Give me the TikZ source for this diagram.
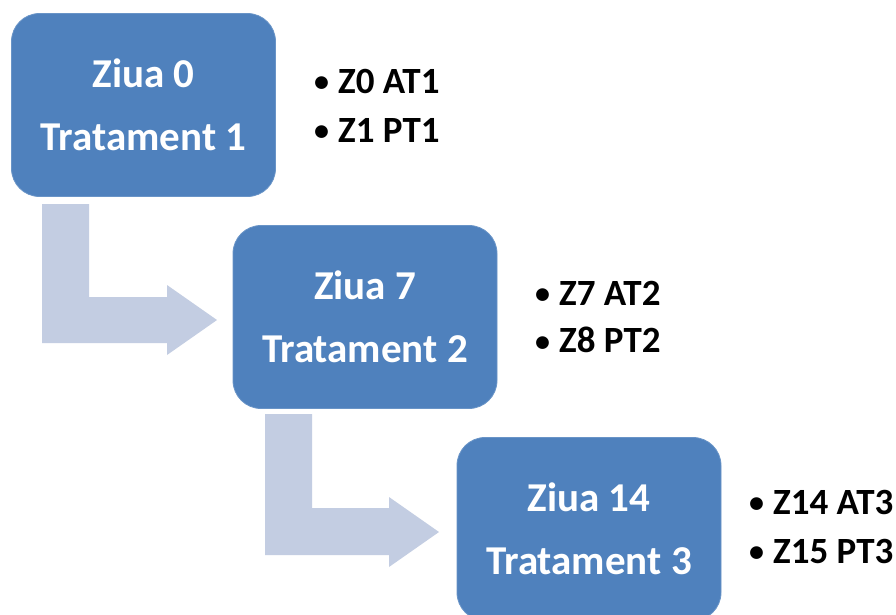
\documentclass[tikz,border=0pt]{standalone}
\usepackage{fontspec}
\setmainfont{Carlito}
\definecolor{boxblue}{HTML}{4F81BD}
\definecolor{arrowblue}{HTML}{C3CDE2}
\newcommand{\smallbul}{\raisebox{1.5pt}{\fontsize{30}{30}\selectfont\textbullet}\hspace{9pt}}
\tikzset{
  stagebox/.style={fill=boxblue, draw=boxblue!85!white, line width=0.8pt, rounded corners=28pt,
    minimum width=264pt, minimum height=183pt, text=white, align=center,
    font=\fontsize{41}{63}\selectfont\bfseries, inner sep=0pt},
  bulletline/.style={anchor=west, text=black, font=\fontsize{37}{40}\selectfont\bfseries, inner sep=0pt},
  bentarrow/.style={fill=arrowblue, draw=none}
}
\begin{document}
\begin{tikzpicture}[x=1pt,y=-1pt]
\clip (0,0) rectangle (896,615);
\fill[white] (0,0) rectangle (896,615);
% arrows
\fill[bentarrow] (42,204) -- (89,204) -- (89,297) -- (167,297) -- (167,285) -- (217,320)
  -- (167,355) -- (167,343) -- (42,343) -- cycle;
\fill[bentarrow] (265,414) -- (312,414) -- (312,508) -- (389,508) -- (389,497) -- (439,532)
  -- (389,567) -- (389,555) -- (265,555) -- cycle;
% boxes
\node[stagebox] (b1) at (143.5,105) {Ziua 0\\Tratament 1};
\node[stagebox] (b2) at (365,317) {Ziua 7\\Tratament 2};
\node[stagebox] (b3) at (589,529) {Ziua 14\\Tratament 3};
% bullets
\node[bulletline] (t1a) at (314,81) {\smallbul Z0 AT1};
\node[bulletline] (t1b) at (314,130) {\smallbul Z1 PT1};
\node[bulletline] (t2a) at (535,293) {\smallbul Z7 AT2};
\node[bulletline] (t2b) at (535,340) {\smallbul Z8 PT2};
\node[bulletline] (t3a) at (749,502) {\smallbul Z14 AT3};
\node[bulletline] (t3b) at (749,551) {\smallbul Z15 PT3};
\end{tikzpicture}
\end{document}
